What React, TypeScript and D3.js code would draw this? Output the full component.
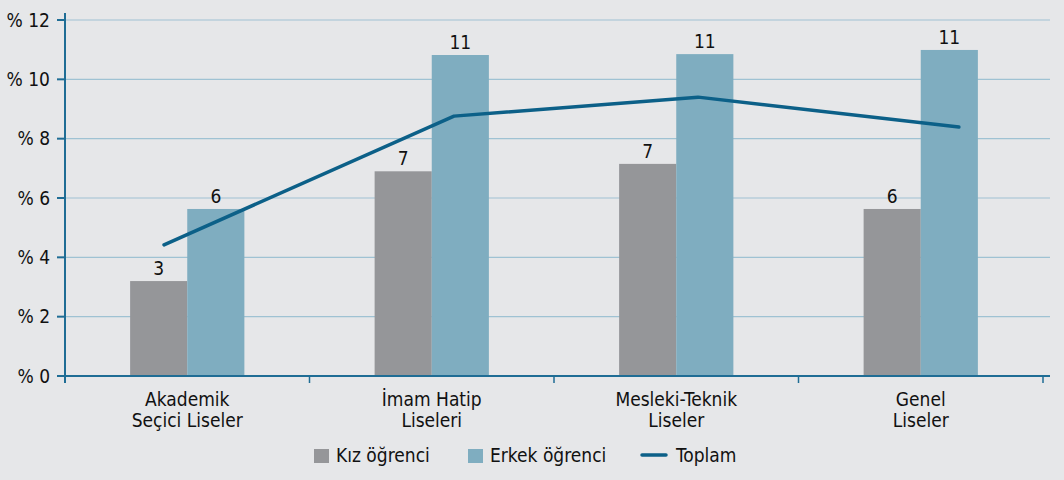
import React from "react";
import * as d3 from "d3";

const categories: string[][] = [
  ["Akademik", "Seçici Liseler"],
  ["İmam Hatip", "Liseleri"],
  ["Mesleki-Teknik", "Liseler"],
  ["Genel", "Liseler"],
];
const girls = [3.2, 6.9, 7.15, 5.63];
const boys = [5.63, 10.82, 10.85, 10.99];
const total = [4.42, 8.76, 9.4, 8.39];
const girlLabels = ["3", "7", "7", "6"];
const boyLabels = ["6", "11", "11", "11"];
// relative position of each Toplam point inside its category band (0..1)
const totalAnchor = [0.405, 0.591, 0.589, 0.656];
const yTicks = [0, 2, 4, 6, 8, 10, 12];
const legendItems = ["Kız öğrenci", "Erkek öğrenci", "Toplam"];

const W = 1064;
const H = 480;
const M = { left: 65, right: 21, top: 20, bottom: 104 };
const BG = "#e6e7e9";
const GRAY = "#959699";
const BLUE = "#7fadc0";
const LINE = "#0c6088";
const AXIS = "#1f6d95";
const GRID = "#9fc2d3";
const FONT = "'DejaVu Sans Condensed', 'DejaVu Sans', sans-serif";
const FS = 19;

export default function App() {
  const x0 = d3
    .scaleBand<number>()
    .domain(d3.range(categories.length))
    .range([M.left, W - M.right])
    .paddingInner(0)
    .paddingOuter(0);
  const step = x0.step();
  const inner = d3
    .scaleBand<string>()
    .domain(["g", "b"])
    .range([0, step])
    .paddingInner(0)
    .paddingOuter(1.14);
  const y = d3.scaleLinear().domain([0, 12]).range([H - M.bottom, M.top]);
  const y0 = y(0);
  const gridRight = W - 14;

  const linePts: [number, number][] = total.map((v, i) => [
    (x0(i) as number) + totalAnchor[i] * step,
    y(v),
  ]);
  const lineGen = d3.line();

  const tickXs = d3.range(1, categories.length + 1).map((i) => M.left + i * step);

  return (
    <svg
      width={W}
      height={H}
      style={{ position: "absolute", left: 0, top: 0, display: "block" }}
      fontFamily={FONT}
    >
      <rect x={0} y={0} width={W} height={H} fill={BG} />
      {/* grid */}
      {yTicks
        .filter((t) => t > 0)
        .map((t) => (
          <line key={t} x1={M.left} x2={gridRight} y1={y(t)} y2={y(t)} stroke={GRID} strokeWidth={1.2} />
        ))}
      {/* bars */}
      {categories.map((_, i) => {
        const bx = x0(i) as number;
        const gx = bx + (inner("g") as number);
        const blx = bx + (inner("b") as number);
        const bw = inner.bandwidth();
        return (
          <g key={i}>
            <rect x={gx} y={y(girls[i])} width={bw} height={y0 - y(girls[i])} fill={GRAY} />
            <rect x={blx} y={y(boys[i])} width={bw} height={y0 - y(boys[i])} fill={BLUE} />
            <text x={gx + bw / 2} y={y(girls[i]) - 6} textAnchor="middle" fontSize={FS} fill="#111">
              {girlLabels[i]}
            </text>
            <text x={blx + bw / 2} y={y(boys[i]) - 6} textAnchor="middle" fontSize={FS} fill="#111">
              {boyLabels[i]}
            </text>
          </g>
        );
      })}
      {/* total line */}
      <path d={lineGen(linePts) || ""} fill="none" stroke={LINE} strokeWidth={3.5} strokeLinecap="round" strokeLinejoin="round" />
      {/* y axis */}
      <line x1={M.left} x2={M.left} y1={13} y2={383} stroke={AXIS} strokeWidth={2} />
      {yTicks.map((t) => (
        <g key={t}>
          <line x1={M.left - 8} x2={M.left} y1={y(t)} y2={y(t)} stroke={AXIS} strokeWidth={2} />
          <text x={50} y={y(t)} dy="0.35em" textAnchor="end" fontSize={FS} fill="#111">
            {`% ${t}`}
          </text>
        </g>
      ))}
      {/* x axis */}
      <line x1={M.left} x2={gridRight} y1={y0} y2={y0} stroke={AXIS} strokeWidth={2} />
      {tickXs.map((tx, i) => (
        <line key={i} x1={tx} x2={tx} y1={y0} y2={y0 + 7} stroke={AXIS} strokeWidth={1.5} />
      ))}
      {categories.map((lines, i) => {
        const cx = (x0(i) as number) + step / 2;
        return (
          <text key={i} x={cx} y={406} textAnchor="middle" fontSize={FS} fill="#111">
            {lines.map((l, j) => (
              <tspan key={j} x={cx} dy={j === 0 ? 0 : 21}>
                {l}
              </tspan>
            ))}
          </text>
        );
      })}
      {/* legend */}
      <g>
        <rect x={314} y={449} width={15} height={14} fill={GRAY} />
        <text x={336} y={462} fontSize={FS} fill="#111">{legendItems[0]}</text>
        <rect x={468} y={449} width={15} height={14} fill={BLUE} />
        <text x={490} y={462} fontSize={FS} fill="#111">{legendItems[1]}</text>
        <line x1={642} x2={666} y1={455} y2={455} stroke={LINE} strokeWidth={3.5} strokeLinecap="round" />
        <text x={676} y={462} fontSize={FS} fill="#111">{legendItems[2]}</text>
      </g>
    </svg>
  );
}
